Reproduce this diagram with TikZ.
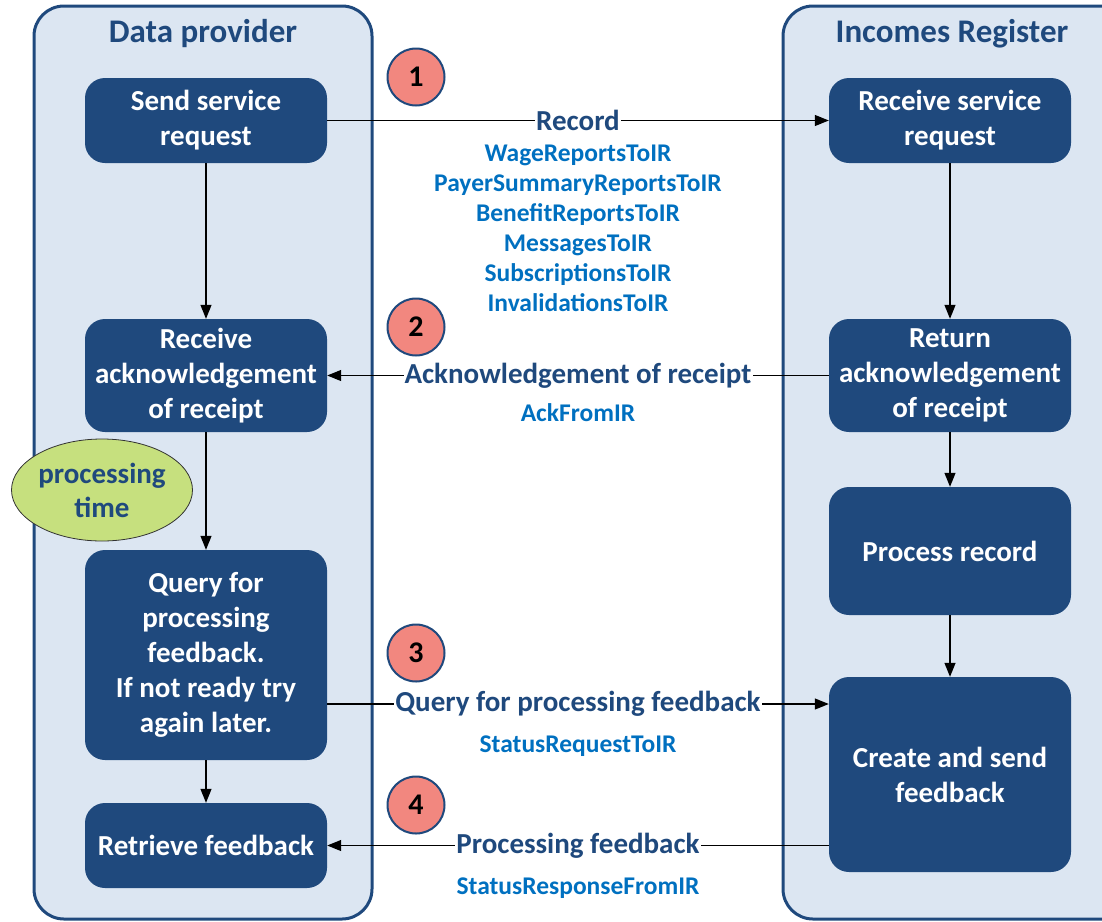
\documentclass[tikz,border=0pt]{standalone}
\usepackage{fontspec}
\setmainfont{Carlito}
\usepackage{tikz}
\usetikzlibrary{shapes,arrows.meta,calc}
\definecolor{laneblue}{HTML}{DCE6F2}
\definecolor{darkblue}{HTML}{1F497D}
\definecolor{msgblue}{HTML}{0070C0}
\definecolor{stepred}{HTML}{F2877F}
\definecolor{timegreen}{HTML}{C6E07E}
\begin{document}
\begin{tikzpicture}[x=1pt,y=-1pt]
\tikzset{
	lane/.style = {draw = darkblue, line width = 3pt, fill = laneblue, rounded corners = 30pt},
	lane title/.style = {text = darkblue, font = \bfseries\fontsize{33}{38}\selectfont},
	task node/.style = {rectangle, rounded corners = 20pt, fill = darkblue, text = white, align = center, minimum width = 242pt, inner sep = 0, font = \bfseries\fontsize{29}{35}\selectfont},
	step node/.style = {circle, draw = darkblue, line width = 2pt, fill = stepred, minimum size = 57pt, inner sep = 0, font = \bfseries\fontsize{30}{36}\selectfont},
	msg label/.style = {fill = white, inner sep = 1pt, text = darkblue, font = \bfseries\fontsize{29}{34}\selectfont},
	msg names/.style = {align = center, text = msgblue, font = \bfseries\fontsize{25.5}{30}\selectfont},
	flow/.style = {line width = 1.2pt, -{Triangle[length = 14pt, width = 11pt]}},
}
\useasboundingbox (0,0) rectangle (1102,921);

\draw [lane] (34,6) rectangle (372,919);
\draw [lane] (783,6) rectangle (1140,919);
\node [lane title] at (203,34) {Data provider};
\node [lane title] at (952,34) {Incomes Register};

\node (send) [task node, minimum height = 85pt] at (206,120.5) {Send service\\request};
\node (getack) [task node, minimum height = 113pt] at (206,375.5) {Receive\\acknowledgement\\of receipt};
\node (query) [task node, minimum height = 210pt] at (206,655) {Query for\\processing\\feedback.\\If not ready try\\again later.};
\node (retrieve) [task node, minimum height = 85pt] at (206,845.5) {Retrieve feedback};

\node (receive) [task node, minimum height = 85pt] at (950,120.5) {Receive service\\request};
\node (giveack) [task node, minimum height = 113pt] at (950,375.5) {Return\\acknowledgement\\of receipt};
\node (process) [task node, minimum height = 128pt] at (950,551) {Process record};
\node (create) [task node, minimum height = 195pt] at (950,774.5) {Create and send\\feedback};

\node (time) [ellipse, draw = black!80, line width = 0.8pt, fill = timegreen, minimum width = 181pt, minimum height = 102pt, inner sep = 0, align = center, text = darkblue, font = \bfseries\fontsize{29}{34}\selectfont] at (102,490) {processing\\time};

\draw [flow] (send) -- (getack);
\draw [flow] (getack) -- (query);
\draw [flow] (query) -- (retrieve);
\draw [flow] (receive) -- (giveack);
\draw [flow] (giveack) -- (process);
\draw [flow] (process) -- (create);

\draw [flow] (send.east) -- node [msg label] {Record} (receive.west);
\draw [flow] (giveack.west) -- node [msg label] {Acknowledgement of receipt} (getack.east);
\draw [flow] ([yshift = -49pt]query.east) -- node [msg label] {Query for processing feedback} ([yshift = 70.5pt]create.west);
\draw [flow] (create.west |- retrieve.east) -- node [msg label] {Processing feedback} (retrieve.east);

\node (records) [msg names] at (578,228) {WageReportsToIR\\PayerSummaryReportsToIR\\BenefitReportsToIR\\MessagesToIR\\SubscriptionsToIR\\InvalidationsToIR};
\node (ackname) [msg names] at (578,413) {AckFromIR};
\node (reqname) [msg names] at (578,746) {StatusRequestToIR};
\node (respname) [msg names] at (578,888) {StatusResponseFromIR};

\node (s1) [step node] at (416,77) {1};
\node (s2) [step node] at (416,327) {2};
\node (s3) [step node] at (416,653) {3};
\node (s4) [step node] at (416,805) {4};

\end{tikzpicture}
\end{document}
